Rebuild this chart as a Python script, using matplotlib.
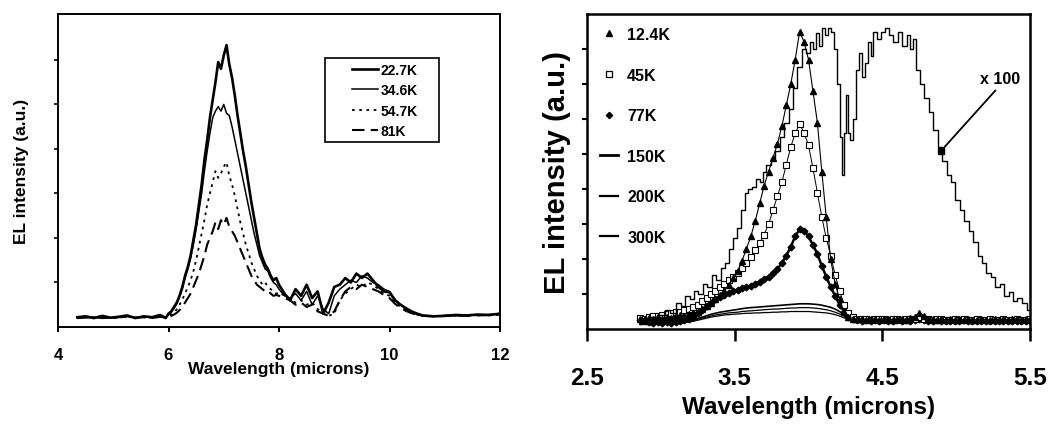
import matplotlib
matplotlib.use("Agg")
import matplotlib.pyplot as plt
from matplotlib.lines import Line2D
from matplotlib.patches import Rectangle
from matplotlib import font_manager

# ---------------- data: left panel ----------------
WL_LEFT = [4.35, 4.5, 4.65, 4.8, 4.95, 5.1, 5.25, 5.4, 5.55, 5.7, 5.85, 5.95,
           6.0, 6.05, 6.1, 6.15, 6.2, 6.25, 6.3, 6.35, 6.4, 6.45, 6.5, 6.55, 6.6, 6.65,
           6.7, 6.75, 6.8, 6.85, 6.9, 6.95, 7.0, 7.05, 7.1, 7.15, 7.2, 7.25, 7.3, 7.35,
           7.4, 7.45, 7.5, 7.55, 7.6, 7.65, 7.7, 7.75, 7.8, 7.85, 7.9, 7.95, 8.0,
           8.1, 8.2, 8.3, 8.4, 8.5, 8.6, 8.7, 8.8, 8.9, 9.0, 9.1, 9.2, 9.3, 9.4, 9.5,
           9.6, 9.7, 9.8, 9.9, 10.0, 10.1, 10.2, 10.3, 10.4, 10.5, 10.6,
           10.8, 11.0, 11.2, 11.4, 11.6, 11.8, 12.0]

EL_22_7K = [0.22, 0.24, 0.20, 0.25, 0.21, 0.23, 0.26, 0.20, 0.24, 0.22, 0.27, 0.20,
            0.30, 0.35, 0.45, 0.55, 0.70, 0.90, 1.15, 1.35, 1.60, 1.95, 2.30, 2.75, 3.20, 3.75,
            4.20, 4.70, 5.10, 5.50, 5.95, 5.80, 6.10, 6.33, 5.90, 5.60, 5.20, 4.75, 4.35, 3.95,
            3.60, 3.20, 2.80, 2.45, 2.10, 1.75, 1.55, 1.40, 1.30, 1.15, 1.05, 1.10, 0.95,
            0.75, 0.60, 0.85, 0.70, 0.95, 0.65, 0.80, 0.30, 0.55, 0.90, 0.95, 1.10, 1.00, 1.20, 1.10,
            1.20, 1.05, 0.90, 0.80, 0.78, 0.60, 0.50, 0.42, 0.35, 0.30, 0.26,
            0.24, 0.25, 0.27, 0.26, 0.28, 0.27, 0.30]

EL_34_6K = [0.21, 0.23, 0.22, 0.24, 0.20, 0.22, 0.25, 0.21, 0.23, 0.21, 0.25, 0.22,
            0.28, 0.33, 0.42, 0.52, 0.68, 0.85, 1.10, 1.30, 1.55, 1.85, 2.20, 2.60, 3.00, 3.50,
            3.95, 4.35, 4.70, 4.85, 4.95, 4.85, 5.00, 4.80, 4.75, 4.50, 4.20, 3.90, 3.60, 3.30,
            3.00, 2.70, 2.40, 2.10, 1.85, 1.60, 1.45, 1.30, 1.25, 1.10, 1.00, 0.95, 0.85,
            0.70, 0.65, 0.75, 0.60, 0.80, 0.50, 0.70, 0.40, 0.30, 0.70, 0.85, 0.95, 1.05, 1.00, 1.15,
            1.10, 1.00, 0.95, 0.85, 0.80, 0.62, 0.50, 0.40, 0.33, 0.28, 0.25,
            0.24, 0.26, 0.25, 0.27, 0.26, 0.28, 0.29]

EL_54_7K = [0.20, 0.22, 0.21, 0.23, 0.20, 0.21, 0.24, 0.20, 0.22, 0.21, 0.24, 0.21,
            0.25, 0.28, 0.33, 0.40, 0.50, 0.62, 0.75, 0.90, 1.05, 1.25, 1.50, 1.80, 2.10, 2.40,
            2.75, 3.00, 3.25, 3.50, 3.35, 3.45, 3.60, 3.70, 3.40, 3.20, 2.95, 2.65, 2.35, 2.10,
            1.85, 1.65, 1.45, 1.30, 1.15, 1.05, 0.95, 1.00, 0.90, 0.85, 0.80, 0.75, 0.78,
            0.70, 0.60, 0.55, 0.60, 0.50, 0.55, 0.40, 0.30, 0.25, 0.30, 0.60, 0.75, 0.85, 0.95, 0.90,
            1.00, 0.95, 0.85, 0.75, 0.70, 0.55, 0.45, 0.38, 0.32, 0.28, 0.25,
            0.24, 0.25, 0.26, 0.25, 0.27, 0.26, 0.28]

EL_81K = [0.20, 0.21, 0.22, 0.20, 0.21, 0.22, 0.23, 0.21, 0.22, 0.20, 0.23, 0.21,
          0.22, 0.25, 0.28, 0.32, 0.38, 0.45, 0.55, 0.65, 0.75, 0.90, 1.05, 1.20, 1.40, 1.60,
          1.85, 2.00, 2.15, 2.35, 2.20, 2.40, 2.30, 2.45, 2.25, 2.15, 2.05, 1.90, 1.75, 1.60,
          1.45, 1.30, 1.15, 1.05, 0.95, 0.90, 0.85, 0.80, 0.82, 0.75, 0.70, 0.72, 0.70,
          0.65, 0.60, 0.50, 0.55, 0.45, 0.50, 0.35, 0.30, 0.25, 0.35, 0.60, 0.80, 0.90, 0.85, 0.95,
          0.90, 0.85, 0.80, 0.72, 0.65, 0.52, 0.43, 0.36, 0.31, 0.27, 0.25,
          0.24, 0.25, 0.26, 0.25, 0.26, 0.27, 0.28]

LEFT_LABELS = ["22.7K", "34.6K", "54.7K", "81K"]
LEFT_XTICKS = [4, 6, 8, 10, 12]

# ---------------- data: right panel ----------------
WL_RIGHT = [2.86, 2.89, 2.92, 2.95, 2.98, 3.01, 3.04, 3.07, 3.10, 3.13, 3.16, 3.19, 3.22,
            3.25, 3.28, 3.31, 3.34, 3.37, 3.40, 3.43, 3.46, 3.49,
            3.52, 3.55, 3.58, 3.61, 3.64, 3.67, 3.70, 3.73, 3.76, 3.79, 3.82, 3.85, 3.88, 3.91,
            3.94, 3.97, 4.00, 4.03, 4.06, 4.09, 4.12, 4.15, 4.18, 4.21, 4.24, 4.27, 4.30,
            4.33, 4.36, 4.39, 4.42, 4.45, 4.48, 4.51, 4.54, 4.57, 4.60, 4.63, 4.66, 4.69, 4.72,
            4.75, 4.78, 4.81, 4.84, 4.87, 4.90, 4.93, 4.96, 4.99, 5.02, 5.05, 5.08, 5.11, 5.14,
            5.17, 5.20, 5.23, 5.26, 5.29, 5.32, 5.35, 5.38, 5.41, 5.44, 5.47, 5.50]

TAIL_A = [0.28, 0.30, 0.27, 0.30, 0.28, 0.26, 0.30, 0.28, 0.27, 0.30, 0.29, 0.27, 0.32,
          0.35, 0.45, 0.38, 0.30, 0.28, 0.27, 0.30, 0.26, 0.28, 0.27, 0.29, 0.26, 0.28,
          0.27, 0.26, 0.29, 0.27, 0.26, 0.28, 0.27, 0.29, 0.26, 0.28, 0.30, 0.27, 0.28, 0.30]

EL_12_4K = [0.30, 0.28, 0.32, 0.30, 0.33, 0.30, 0.35, 0.32, 0.36, 0.40, 0.38, 0.42, 0.45,
            0.50, 0.58, 0.65, 0.75, 0.85, 0.98, 1.10, 1.25, 1.45,
            1.65, 1.95, 2.30, 2.65, 3.10, 3.60, 4.10, 4.50, 4.90, 5.30, 5.80, 6.40, 7.00, 7.70,
            8.50, 8.20, 7.70, 6.80, 5.90, 4.50, 3.20, 2.00, 1.30, 0.85, 0.50, 0.35, 0.30] + TAIL_A

EL_45K = [0.32, 0.30, 0.35, 0.38, 0.36, 0.40, 0.42, 0.45, 0.48, 0.50, 0.55, 0.58, 0.62,
          0.70, 0.80, 0.90, 1.00, 1.10, 1.20, 1.30, 1.40, 1.50,
          1.60, 1.75, 1.90, 2.05, 2.25, 2.45, 2.70, 3.00, 3.40, 3.80, 4.20, 4.70, 5.20, 5.60,
          5.86, 5.60, 5.25, 4.60, 3.90, 3.20, 2.60, 2.10, 1.55, 1.10, 0.70, 0.45, 0.33,
          0.30, 0.28, 0.30, 0.27, 0.29, 0.28, 0.30, 0.27, 0.28, 0.29, 0.27, 0.30, 0.28,
          0.30, 0.33, 0.30, 0.28, 0.27, 0.29, 0.28, 0.27, 0.26, 0.28, 0.27, 0.29, 0.26,
          0.27, 0.28, 0.26, 0.27, 0.28, 0.26, 0.27, 0.28, 0.26, 0.27, 0.28, 0.26, 0.27, 0.28]

EL_77K = [0.25, 0.22, 0.20, 0.18, 0.20, 0.17, 0.20, 0.18, 0.20, 0.22, 0.25, 0.30, 0.35,
          0.45, 0.55, 0.65, 0.75, 0.85, 0.92, 0.98, 1.02, 1.08,
          1.12, 1.16, 1.20, 1.24, 1.30, 1.35, 1.42, 1.50, 1.60, 1.72, 1.88, 2.10, 2.35, 2.65,
          2.85, 2.80, 2.65, 2.40, 2.15, 1.80, 1.50, 1.20, 0.95, 0.70, 0.50, 0.35, 0.28,
          0.25, 0.24, 0.26, 0.23, 0.25, 0.24, 0.26, 0.23, 0.24, 0.25, 0.23, 0.26, 0.24,
          0.27, 0.30, 0.26, 0.24, 0.23, 0.25, 0.24, 0.23, 0.22, 0.24, 0.23, 0.25, 0.22,
          0.23, 0.24, 0.22, 0.23, 0.24, 0.22, 0.23, 0.24, 0.22, 0.23, 0.24, 0.22, 0.23, 0.24]

EL_150K = [0.15, 0.16, 0.14, 0.15, 0.17, 0.15, 0.16, 0.18, 0.17, 0.20, 0.22, 0.24, 0.27,
           0.30, 0.34, 0.38, 0.42, 0.45, 0.48, 0.50, 0.52, 0.54,
           0.56, 0.58, 0.60, 0.61, 0.62, 0.63, 0.64, 0.65, 0.66, 0.67, 0.68, 0.69, 0.70, 0.71,
           0.72, 0.72, 0.72, 0.71, 0.70, 0.68, 0.65, 0.62, 0.57, 0.50, 0.42, 0.35, 0.30,
           0.27, 0.26, 0.27, 0.25, 0.26, 0.27, 0.25, 0.26, 0.27, 0.25, 0.26, 0.27, 0.25,
           0.28, 0.30, 0.27, 0.26, 0.25, 0.26, 0.27, 0.25, 0.26, 0.25, 0.27, 0.26, 0.25,
           0.26, 0.27, 0.25, 0.26, 0.25, 0.27, 0.26, 0.25, 0.26, 0.27, 0.25, 0.26, 0.25, 0.26]

EL_200K = [0.14, 0.15, 0.13, 0.14, 0.15, 0.14, 0.15, 0.16, 0.16, 0.18, 0.20, 0.22, 0.25,
           0.28, 0.31, 0.34, 0.37, 0.40, 0.42, 0.44, 0.46, 0.47,
           0.48, 0.50, 0.51, 0.52, 0.53, 0.54, 0.55, 0.56, 0.57, 0.57, 0.58, 0.59, 0.60, 0.60,
           0.61, 0.61, 0.61, 0.60, 0.59, 0.57, 0.55, 0.52, 0.48, 0.43, 0.37, 0.31, 0.27,
           0.25, 0.24, 0.25, 0.23, 0.24, 0.25, 0.23, 0.24, 0.25, 0.23, 0.24, 0.25, 0.23,
           0.26, 0.28, 0.25, 0.24, 0.23, 0.24, 0.25, 0.23, 0.24, 0.23, 0.25, 0.24, 0.23,
           0.24, 0.25, 0.23, 0.24, 0.23, 0.25, 0.24, 0.23, 0.24, 0.25, 0.23, 0.24, 0.23, 0.24]

EL_300K = [0.12, 0.13, 0.12, 0.13, 0.14, 0.13, 0.14, 0.15, 0.15, 0.16, 0.18, 0.20, 0.22,
           0.25, 0.28, 0.31, 0.34, 0.36, 0.38, 0.40, 0.41, 0.42,
           0.43, 0.44, 0.45, 0.45, 0.46, 0.46, 0.47, 0.47, 0.48, 0.48, 0.49, 0.49, 0.50, 0.50,
           0.50, 0.50, 0.50, 0.49, 0.48, 0.47, 0.46, 0.44, 0.41, 0.37, 0.32, 0.28, 0.25,
           0.23, 0.22, 0.23, 0.21, 0.22, 0.23, 0.21, 0.22, 0.23, 0.21, 0.22, 0.23, 0.21,
           0.24, 0.26, 0.23, 0.22, 0.21, 0.22, 0.23, 0.21, 0.22, 0.21, 0.23, 0.22, 0.21,
           0.22, 0.23, 0.21, 0.22, 0.21, 0.23, 0.22, 0.21, 0.22, 0.23, 0.21, 0.22, 0.21, 0.22]

# 12.4K spectrum multiplied by 100 (x 100 trace)
WL_X100 = [2.86, 2.90, 2.95, 3.00, 3.05, 3.08, 3.12, 3.15, 3.18, 3.21, 3.24, 3.27, 3.30,
           3.33, 3.36, 3.39, 3.42, 3.45, 3.48, 3.50, 3.53, 3.56, 3.58, 3.60, 3.63, 3.66,
           3.68, 3.70, 3.73, 3.76, 3.79, 3.82, 3.85, 3.88, 3.91, 3.94, 3.97, 4.00, 4.02,
           4.04, 4.06, 4.08, 4.10, 4.12, 4.14, 4.16, 4.18, 4.20, 4.22, 4.235, 4.25, 4.26,
           4.27, 4.29, 4.31, 4.33, 4.35, 4.37, 4.39, 4.41, 4.43, 4.45, 4.48, 4.50, 4.53,
           4.56, 4.59, 4.62, 4.65, 4.68, 4.70, 4.72, 4.74, 4.77, 4.80, 4.83, 4.86, 4.89,
           4.92, 4.95, 4.98, 5.01, 5.04, 5.07, 5.10, 5.13, 5.16, 5.19, 5.22, 5.25, 5.28,
           5.31, 5.34, 5.37, 5.40, 5.43, 5.46, 5.50]
EL_X100 = [0.30, 0.32, 0.35, 0.40, 0.55, 0.45, 0.75, 0.65, 0.95, 0.85, 1.10, 1.00, 1.30,
           1.20, 1.55, 1.40, 1.75, 1.90, 2.30, 2.60, 2.90, 3.40, 3.90, 4.00, 4.05, 4.30,
           4.20, 4.50, 4.70, 4.90, 5.10, 5.50, 5.90, 6.30, 6.90, 7.50, 8.00, 7.90, 8.20,
           8.00, 8.45, 8.10, 8.60, 8.40, 8.60, 8.50, 8.00, 7.00, 5.50, 4.40, 5.60, 6.70,
           5.60, 5.40, 6.00, 7.40, 7.90, 7.20, 7.60, 8.20, 7.80, 8.50, 8.30, 8.50, 8.60,
           8.40, 8.20, 8.50, 8.10, 8.40, 8.00, 8.30, 7.40, 7.00, 6.60, 6.20, 5.70, 5.20,
           4.80, 4.40, 4.20, 3.70, 3.40, 3.10, 2.80, 2.50, 2.10, 1.90, 1.60, 1.50, 1.20,
           1.30, 0.95, 1.05, 0.80, 0.90, 0.75, 0.55]

RIGHT_LABELS = ["12.4K", "45K", "77K", "150K", "200K", "300K"]
RIGHT_XTICKS = [2.5, 3.5, 4.5, 5.5]
X100_LABEL = "x 100"
X100_POINT = (4.90, 5.10)
X100_TEXT = (5.16, 7.17)

# ---------------- fonts ----------------
avail = {f.name for f in font_manager.fontManager.ttflist}
REG = [f for f in ["Liberation Sans", "Arial", "DejaVu Sans"] if f in avail] or ["DejaVu Sans"]
plt.rcParams["font.family"] = REG
plt.rcParams["font.weight"] = "bold"

W, H = 1059, 435
fig = plt.figure(figsize=(W / 100, H / 100), dpi=100)

def frac(x0, y0, x1, y1):
    return [x0 / W, 1 - y1 / H, (x1 - x0) / W, (y1 - y0) / H]

# ---------------- left panel ----------------
axL = fig.add_axes(frac(58, 15, 500, 328))
axL.plot(WL_LEFT, EL_22_7K, color="black", lw=1.9, label=LEFT_LABELS[0])
axL.plot(WL_LEFT, EL_34_6K, color="black", lw=1.1, label=LEFT_LABELS[1])
axL.plot(WL_LEFT, EL_54_7K, color="black", lw=1.3, ls=(0, (1.5, 2.5)), label=LEFT_LABELS[2])
axL.plot(WL_LEFT, EL_81K, color="black", lw=1.5, ls=(0, (6, 3)), label=LEFT_LABELS[3])
axL.set_xlim(4, 12)
axL.set_ylim(0, 7.03)
axL.set_xticks(LEFT_XTICKS)
axL.set_xticklabels([str(t) for t in LEFT_XTICKS], fontsize=12, fontweight="bold")
axL.set_yticks([1, 2, 3, 4, 5, 6])
axL.set_yticklabels([])
axL.tick_params(axis="x", direction="out", length=3.6, width=1.4, pad=11)
axL.tick_params(axis="y", direction="out", length=3, width=1.2)
for s in axL.spines.values():
    s.set_linewidth(1.4)
axL.set_xlabel("Wavelength (microns)", fontsize=12.5, fontweight="bold")
axL.set_ylabel("EL intensity (a.u.)", fontsize=12.5, fontweight="bold")
axL.xaxis.label.set_va("center")
axL.yaxis.label.set_va("center")
axL.xaxis.set_label_coords(0.5, (328 - 370) / 313)
axL.yaxis.set_label_coords((22 - 58) / 442, 0.5)

# legend box
bx0, bx1 = (325 - 58) / 442, (439 - 58) / 442
by0, by1 = (328 - 143) / 313, (328 - 59) / 313
axL.add_patch(Rectangle((bx0, by0), bx1 - bx0, by1 - by0, transform=axL.transAxes,
                        fill=False, edgecolor="black", lw=1.2, zorder=5))
axL.legend(loc="upper left", bbox_to_anchor=((352 - 58) / 442, (328 - 64) / 313),
           frameon=False, handlelength=1.9, handletextpad=0.15,
           labelspacing=0.45, borderpad=0, borderaxespad=0,
           prop={"weight": "bold", "size": 10})

# ---------------- right panel ----------------
axR = fig.add_axes(frac(587, 15, 1030, 330))
axR.plot(WL_RIGHT, EL_300K, color="black", lw=0.9)
axR.plot(WL_RIGHT, EL_200K, color="black", lw=0.9)
axR.plot(WL_RIGHT, EL_150K, color="black", lw=1.2)
axR.plot(WL_RIGHT, EL_77K, color="black", lw=1.8, marker="D", ms=3.4, mfc="black", mec="black")
axR.plot(WL_RIGHT, EL_45K, color="black", lw=0.7, marker="s", ms=3.8, mfc="white", mec="black", mew=0.8)
axR.plot(WL_RIGHT, EL_12_4K, color="black", lw=0.8, marker="^", ms=3.8, mfc="black", mec="black")
axR.plot(WL_X100, EL_X100, color="black", lw=1.0, drawstyle="steps-mid")
axR.plot([X100_POINT[0]], [X100_POINT[1]], marker="s", ms=5, color="black")
axR.annotate(X100_LABEL, xy=X100_POINT, xytext=X100_TEXT, fontsize=11.5, fontweight="bold",
             ha="left", va="center",
             arrowprops=dict(arrowstyle="-", color="black", lw=1.3, shrinkA=2, shrinkB=0,
                             relpos=(0.5, 0.0)))
axR.set_xlim(2.5, 5.5)
axR.set_ylim(0, 9)
axR.set_xticks(RIGHT_XTICKS)
axR.set_xticklabels([str(t) for t in RIGHT_XTICKS], fontsize=17.5, fontweight="bold")
axR.set_yticks([1, 2, 3, 4, 5, 6, 7, 8])
axR.set_yticklabels([])
axR.tick_params(axis="x", direction="out", length=8.6, width=1.8, pad=18)
axR.tick_params(axis="y", direction="out", length=3.5, width=1.5)
for s in axR.spines.values():
    s.set_linewidth(1.8)
axR.set_xlabel("Wavelength (microns)", fontsize=17.5, fontweight="bold")
axR.set_ylabel("EL intensity (a.u.)", fontsize=21, fontweight="bold")
axR.xaxis.label.set_va("center")
axR.yaxis.label.set_va("center")
axR.xaxis.set_label_coords(0.5, (330 - 408) / 315)
axR.yaxis.set_label_coords((557 - 587) / 443, 0.5)

handles = [
    Line2D([], [], lw=0, marker="^", ms=4, color="black"),
    Line2D([], [], lw=0, marker="s", ms=4, mfc="white", mec="black", mew=0.9),
    Line2D([], [], lw=0, marker="D", ms=3.2, color="black"),
    Line2D([], [], lw=2.0, color="black"),
    Line2D([], [], lw=1.6, color="black"),
    Line2D([], [], lw=1.6, color="black"),
]
axR.legend(handles, RIGHT_LABELS, loc="upper left",
           bbox_to_anchor=((600 - 587) / 443, (330 - 28) / 315),
           frameon=False, handlelength=1.15, handletextpad=0.55, labelspacing=1.6,
           borderpad=0, borderaxespad=0,
           prop={"weight": "bold", "size": 11.5})

fig.savefig("out.png", dpi=100)
